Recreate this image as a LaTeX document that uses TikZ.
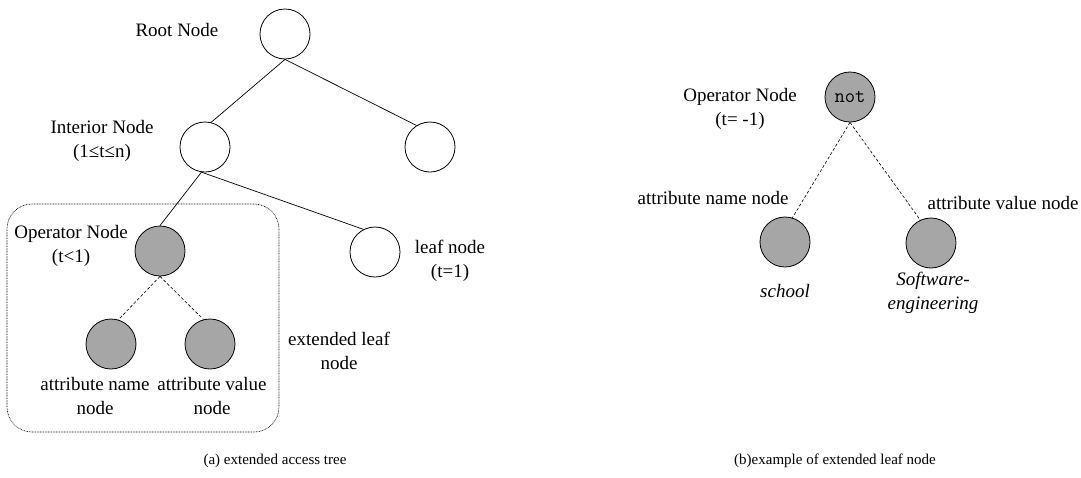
\documentclass[tikz,border=0pt]{standalone}
\usepackage{fontspec}
\setmainfont{Liberation Serif}
\definecolor{nodegray}{RGB}{166,166,166}
\tikzset{
  tnode/.style={circle, draw=black, line width=0.8pt, minimum size=50pt, inner sep=0pt},
  wnode/.style={tnode, fill=white},
  gnode/.style={tnode, fill=nodegray},
  lbl/.style={align=center, inner sep=0pt, font=\fontsize{19}{24.5}\selectfont},
  captxt/.style={inner sep=0pt, font=\fontsize{15}{18}\selectfont},
  sedge/.style={line width=0.7pt},
  dedge/.style={line width=0.6pt, dash pattern=on 3pt off 2pt},
}
\begin{document}
\begin{tikzpicture}[x=1pt,y=-1pt]
\useasboundingbox (0,0) rectangle (1081,477);
% (a) extended access tree
\node[draw, line width=0.6pt, dash pattern=on 0.8pt off 0.8pt, rounded corners=25pt,
      minimum width=272pt, minimum height=228pt, inner sep=0pt] (box) at (143,318) {};
\node[wnode] (root) at (285,34) {};
\node[wnode] (int) at (205,147) {};
\node[wnode] (rc) at (430,147) {};
\node[gnode] (op) at (160,251) {};
\node[wnode] (leaf) at (375,252) {};
\node[gnode] (an) at (111,344) {};
\node[gnode] (av) at (210,344) {};

\draw[sedge] (root.south) -- (int.76);
\draw[sedge] (root.south) -- (rc.122);
\draw[sedge] (int.262) -- (op.north);
\draw[sedge] (int.262) -- (leaf.117);
\draw[dedge] (op.south) -- (an.73);
\draw[dedge] (op.south) -- (av.105);

\node[lbl] (lroot) at (177,30) {Root Node};
\node[lbl] (lint) at (102,141) {Interior Node\\(1≤t≤n)};
\node[lbl] (lop) at (71,246) {Operator Node\\(t<1)};
\node[lbl] (lan) at (95,396) {attribute name\\node};
\node[lbl] (lav) at (212,396) {attribute value\\node};
\node[lbl] (lext) at (339,351) {extended leaf\\node};
\node[lbl] (lleaf) at (450,261) {leaf node\\(t=1)};
\node[captxt] (capa) at (275,461) {(a) extended access tree};

% (b) example of extended leaf node
\node[gnode, font=\ttfamily\fontsize{20}{22}\selectfont] (not) at (850,97) {not};
\node[gnode] (sch) at (785,242) {};
\node[gnode] (sw) at (931,243) {};
\draw[dedge] (not.south) -- (sch.73);
\draw[dedge] (not.south) -- (sw.115);

\node[lbl] (lop2) at (740,109) {Operator Node\\(t= -1)};
\node[lbl] (lan2) at (713,198) {attribute name node};
\node[lbl] (lav2) at (1003,203) {attribute value node};
\node[lbl, font=\fontsize{19}{24.5}\selectfont\itshape] (lsch) at (785,291) {school};
\node[lbl, font=\fontsize{19}{24.5}\selectfont\itshape] (lsw) at (933,293) {Software-\\engineering};
\node[captxt] (capb) at (835,461) {(b)example of extended leaf node};
\end{tikzpicture}
\end{document}
